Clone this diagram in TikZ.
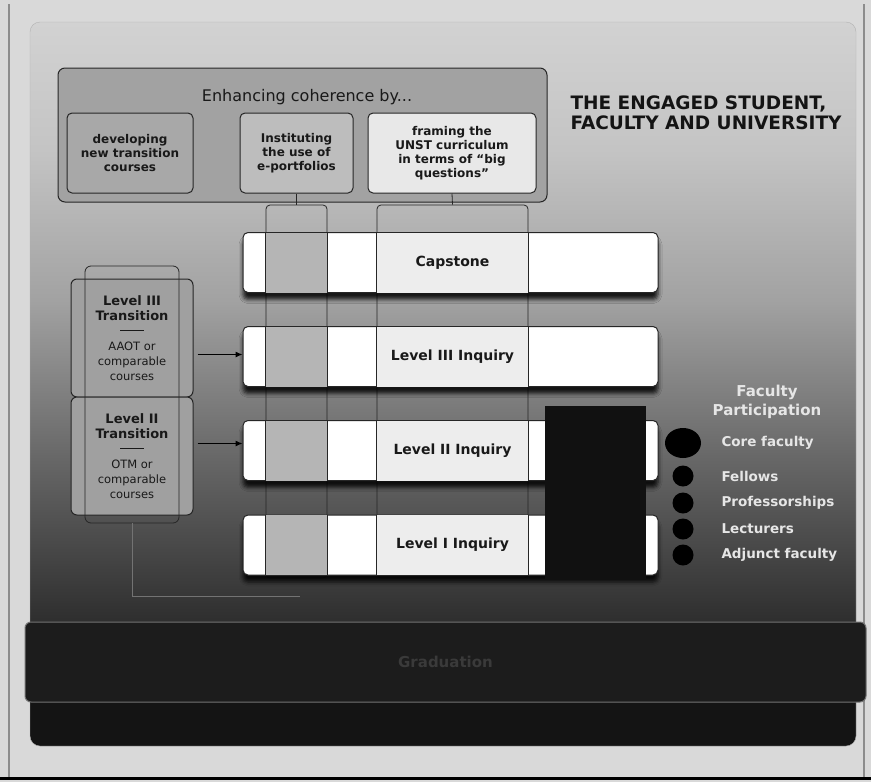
\documentclass[tikz,border=0pt]{standalone}
\usepackage{fontspec}
\setmainfont{DejaVu Sans}
\usetikzlibrary{shadows.blur,arrows.meta,shapes.geometric}
\definecolor{bgc}{HTML}{D9D9D9}
\definecolor{pA}{HTML}{141414}
\definecolor{pB}{HTML}{2E2E2E}
\definecolor{pC}{HTML}{6A6A6A}
\definecolor{pD}{HTML}{A2A2A2}
\definecolor{pE}{HTML}{C4C4C4}
\definecolor{pF}{HTML}{D2D2D2}
\definecolor{contfill}{HTML}{A2A2A2}
\definecolor{devfill}{HTML}{A8A8A8}
\definecolor{instfill}{HTML}{BDBDBD}
\definecolor{framefill}{HTML}{E8E8E8}
\definecolor{trfill}{HTML}{A0A0A0}
\definecolor{ecolfill}{HTML}{B5B5B5}
\definecolor{bcolfill}{HTML}{EDEDED}
\definecolor{blk}{HTML}{111111}
\definecolor{facc}{HTML}{E6E6E6}
\definecolor{botfill}{HTML}{1C1C1C}
\definecolor{gradc}{HTML}{3A3A3A}
\pgfdeclareverticalshading{panelshade}{100bp}{color(0bp)=(pA); color(25bp)=(pA); color(28bp)=(pA); color(33.6bp)=(pB); color(45.4bp)=(pC); color(55.8bp)=(pD); color(66.2bp)=(pE); color(75bp)=(pF); color(100bp)=(pF)}
\begin{document}
\begin{tikzpicture}[x=1pt,y=-1pt,
 box/.style={draw=black!85, line width=1pt, rounded corners=5pt, inner sep=2pt, align=center},
 subtxt/.style={font=\bfseries\fontsize{12}{14}\selectfont, text=black!90},
 bar/.style={draw=black!85, line width=1pt, fill=white, rounded corners=5pt, minimum width=415pt, minimum height=60pt, inner sep=0pt, blur shadow={shadow xshift=0pt, shadow yshift=-7pt, shadow blur radius=4pt, shadow opacity=85}},
 barlbl/.style={font=\bfseries\fontsize{14}{16}\selectfont, text=black!90},
 col/.style={draw=black!85, line width=0.8pt, rounded corners=4pt, inner sep=0pt},
 colline/.style={draw=black!85, line width=0.8pt},
 arr/.style={-{Latex[length=7pt,width=6pt]}, line width=1pt, shorten <=4pt},
 dot/.style={circle, fill=black, minimum size=21pt, inner sep=0pt},
 faclbl/.style={anchor=west, text=facc, font=\bfseries\fontsize{13.5}{15}\selectfont}
]
\useasboundingbox (0,0) rectangle (871,782);
\fill[bgc] (0,0) rectangle (871,782);
\draw[black!45, line width=2pt] (9,4) -- (9,778);
\draw[black!45, line width=1.5pt] (864,4) -- (864,778);
\draw[black, line width=3pt] (0,778) -- (871,778);
\shade[shading=panelshade, rounded corners=10pt, draw=black!30] (30,22) rectangle (856,746);

% top container
\node[box, fill=contfill, minimum width=489pt, minimum height=134pt, rounded corners=7pt] (enh) at (302.5,135) {};
\node[font=\fontsize{16}{19}\selectfont, text=black!90] (enhttl) at (307,97) {Enhancing coherence by...};
\node[box, fill=devfill, minimum width=126pt, minimum height=80pt, subtxt] (dev) at (130,153) {developing\\new transition\\courses};
\node[box, fill=instfill, minimum width=113pt, minimum height=80pt, subtxt] (inst) at (296.5,153) {Instituting\\the use of\\e-portfolios};
\node[box, fill=framefill, minimum width=168pt, minimum height=80pt, subtxt] (frm) at (452,153) {framing the\\UNST curriculum\\in terms of ``big\\questions''};

\node[anchor=north west, align=left, font=\bfseries\fontsize{18.5}{20}\selectfont, text=black!92] (head) at (567,92) {THE ENGAGED STUDENT,\\FACULTY AND UNIVERSITY};

% columns
\node[col, minimum width=61pt, minimum height=373pt] (ecol) at (296.5,391.5) {};
\node[col, minimum width=151pt, minimum height=373pt] (bcol) at (452.5,391.5) {};
\draw[colline] (inst.south) -- (ecol.north);
\draw[colline] (frm.south) -- (bcol.north);

% bars
\node[bar] (cap) at (450.5,262.5) {};
\node[bar] (l3) at (450.5,356.5) {};
\node[bar] (l2) at (450.5,450.5) {};
\node[bar] (l1) at (450.5,545) {};
\foreach \b in {cap,l3,l2,l1}{
  \fill[ecolfill] ([yshift=-0.5pt]\b.north -| ecol.west) rectangle ([yshift=0.5pt]\b.south -| ecol.east);
  \fill[bcolfill] ([yshift=-0.5pt]\b.north -| bcol.west) rectangle ([yshift=0.5pt]\b.south -| bcol.east);
  \foreach \c in {ecol.west,ecol.east,bcol.west,bcol.east}{
    \draw[colline] (\b.north -| \c) -- (\b.south -| \c);
  }
}
\node[barlbl] (caplbl) at (cap -| bcol) {Capstone};
\node[barlbl] (l3lbl) at (l3 -| bcol) {Level III Inquiry};
\node[barlbl] (l2lbl) at (l2 -| bcol) {Level II Inquiry};
\node[barlbl] (l1lbl) at (l1 -| bcol) {Level I Inquiry};

\node[fill=blk, minimum width=101pt, minimum height=174pt, inner sep=0pt] (blkbox) at (595.5,493) {};

% transitions
\node[box, fill=trfill, minimum width=122pt, minimum height=118pt, rounded corners=6pt, font=\fontsize{11.5}{15}\selectfont, text=black!90] (t3) at (132,338)
  {{\fontsize{13}{15}\selectfont\bfseries Level III}\\{\fontsize{13}{15}\selectfont\bfseries Transition}\\[-1pt]\rule[3pt]{24pt}{1pt}\\[1pt]AAOT or\\comparable\\courses};
\node[box, fill=trfill, minimum width=122pt, minimum height=118pt, rounded corners=6pt, font=\fontsize{11.5}{15}\selectfont, text=black!90] (t2) at (132,456)
  {{\fontsize{13}{15}\selectfont\bfseries Level II}\\{\fontsize{13}{15}\selectfont\bfseries Transition}\\[-1pt]\rule[3pt]{24pt}{1pt}\\[1pt]OTM or\\comparable\\courses};
\node[col, minimum width=94pt, minimum height=257pt, rounded corners=6pt] (tcol) at (132,394.5) {};
\draw[black!55, line width=0.6pt] (tcol.south) -- (132,596) -- (300,596);

\coordinate (a3) at ([yshift=2pt]l3.west);
\draw[arr] (t3.east |- a3) -- (a3);
\coordinate (a2) at ([yshift=7pt]l2.west);
\draw[arr] (t2.east |- a2) -- (a2);

% faculty participation
\node[font=\bfseries\fontsize{15}{19}\selectfont, text=facc, align=center] (facttl) at (767,402) {Faculty\\Participation};
\node[ellipse, fill=black, minimum width=36pt, minimum height=30pt, inner sep=0pt] (c1) at (683,443) {};
\node[dot] (c2) at (683,476) {};
\node[dot] (c3) at (683,503) {};
\node[dot] (c4) at (683,529) {};
\node[dot] (c5) at (683,555) {};
\node[faclbl] (f1) at (718,443) {Core faculty};
\node[faclbl] (f2) at (718,476) {Fellows};
\node[faclbl] (f3) at (718,503) {Professorships};
\node[faclbl] (f4) at (718,529) {Lecturers};
\node[faclbl] (f5) at (718,555) {Adjunct faculty};

% bottom bar
\node[fill=botfill, draw=black!55, line width=1pt, rounded corners=6pt, minimum width=841pt, minimum height=80pt, inner sep=0pt, text=gradc, font=\bfseries\fontsize{15}{18}\selectfont] (bot) at (445.5,662) {Graduation};
\end{tikzpicture}
\end{document}
